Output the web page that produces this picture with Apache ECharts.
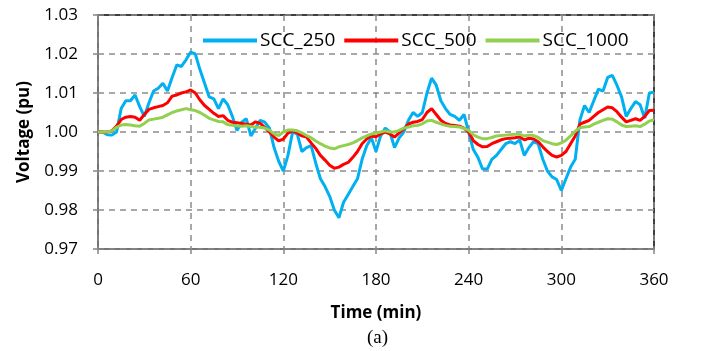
<!DOCTYPE html>
<html>
<head>
<meta charset="utf-8">
<script src="https://cdn.jsdelivr.net/npm/echarts@6/dist/echarts.min.js"></script>
<style>html,body{margin:0;padding:0;background:#fff}#c{width:704px;height:351px}</style>
</head>
<body>
<div id="c"></div>
<script>
// time (min), one point every 3 minutes
var timeMin = [];
for (var k = 0; k <= 120; k++) timeMin.push(k * 3);

var scc250 = [
1.0000,1.0000,0.9993,0.9992,1.0000,1.0060,1.0080,1.0080,1.0095,1.0065,
1.0040,1.0075,1.0105,1.0112,1.0125,1.0105,1.0140,1.0172,1.0168,1.0185,
1.0205,1.0200,1.0160,1.0125,1.0090,1.0085,1.0060,1.0085,1.0070,1.0040,
1.0004,1.0025,1.0034,0.9990,1.0010,1.0030,1.0025,1.0010,0.9960,0.9925,
0.9900,0.9940,1.0000,0.9995,0.9950,0.9960,0.9965,0.9920,0.9880,0.9860,
0.9835,0.9800,0.9780,0.9820,0.9840,0.9860,0.9880,0.9930,0.9965,0.9985,
0.9950,0.9990,1.0010,1.0000,0.9960,0.9985,1.0000,1.0030,1.0050,1.0040,
1.0050,1.0100,1.0138,1.0120,1.0080,1.0060,1.0045,1.0040,1.0030,1.0045,
1.0000,0.9955,0.9935,0.9905,0.9905,0.9930,0.9940,0.9955,0.9970,0.9975,
0.9970,0.9980,0.9940,0.9960,0.9975,0.9970,0.9930,0.9900,0.9885,0.9878,
0.9850,0.9880,0.9910,0.9930,1.0030,1.0068,1.0050,1.0080,1.0110,1.0105,
1.0140,1.0145,1.0120,1.0090,1.0040,1.0060,1.0078,1.0070,1.0035,1.0100,
1.0102];

var scc500 = [
1.0000,1.0000,1.0000,1.0003,1.0015,1.0032,1.0038,1.0040,1.0038,1.0030,
1.0045,1.0058,1.0062,1.0065,1.0068,1.0075,1.0092,1.0095,1.0100,1.0103,
1.0108,1.0100,1.0082,1.0068,1.0058,1.0048,1.0040,1.0042,1.0030,1.0025,
1.0024,1.0022,1.0020,1.0018,1.0026,1.0022,1.0012,1.0000,0.9987,0.9977,
0.9982,0.9997,1.0003,0.9998,0.9990,0.9987,0.9972,0.9958,0.9940,0.9928,
0.9915,0.9907,0.9910,0.9917,0.9922,0.9935,0.9950,0.9970,0.9982,0.9990,
0.9988,0.9995,1.0000,0.9995,0.9987,0.9998,1.0008,1.0020,1.0025,1.0027,
1.0032,1.0050,1.0060,1.0045,1.0030,1.0022,1.0018,1.0017,1.0015,1.0010,
1.0000,0.9978,0.9968,0.9962,0.9963,0.9970,0.9975,0.9980,0.9983,0.9984,
0.9985,0.9987,0.9980,0.9984,0.9982,0.9975,0.9962,0.9950,0.9940,0.9936,
0.9940,0.9950,0.9970,0.9990,1.0020,1.0025,1.0030,1.0040,1.0050,1.0057,
1.0064,1.0062,1.0052,1.0038,1.0026,1.0030,1.0034,1.0030,1.0040,1.0055,
1.0056];

var scc1000 = [
1.0000,1.0000,1.0000,1.0003,1.0012,1.0018,1.0019,1.0018,1.0016,1.0015,
1.0022,1.0031,1.0033,1.0035,1.0038,1.0044,1.0050,1.0054,1.0057,1.0060,
1.0057,1.0055,1.0050,1.0043,1.0035,1.0031,1.0027,1.0026,1.0019,1.0017,
1.0016,1.0015,1.0016,1.0014,1.0012,1.0012,1.0010,1.0005,0.9995,0.9991,
1.0000,1.0005,1.0005,1.0003,0.9998,0.9991,0.9985,0.9977,0.9970,0.9964,
0.9959,0.9957,0.9962,0.9965,0.9968,0.9972,0.9978,0.9985,0.9990,0.9995,
0.9997,1.0000,1.0003,1.0000,1.0000,1.0004,1.0010,1.0013,1.0016,1.0017,
1.0021,1.0028,1.0030,1.0025,1.0021,1.0017,1.0015,1.0014,1.0013,1.0009,
1.0004,0.9993,0.9987,0.9983,0.9983,0.9986,0.9990,0.9991,0.9992,0.9993,
0.9994,0.9994,0.9990,0.9992,0.9991,0.9986,0.9978,0.9974,0.9970,0.9968,
0.9972,0.9979,0.9990,1.0002,1.0011,1.0013,1.0014,1.0020,1.0025,1.0030,
1.0034,1.0033,1.0026,1.0018,1.0014,1.0015,1.0016,1.0014,1.0020,1.0028,
1.0031];

var seriesNames = ['SCC_250', 'SCC_500', 'SCC_1000'];
var seriesColors = ['#00B0F0', '#FF0000', '#92D050'];
var seriesValues = [scc250, scc500, scc1000];

function pairs(vals) {
  return vals.map(function (v, i) { return [timeMin[i], v]; });
}

var chart = echarts.init(document.getElementById('c'), null, {renderer: 'canvas'});
var FONT = '"Open Sans", sans-serif';
chart.setOption({
  animation: false,
  backgroundColor: '#ffffff',
  grid: {left: 98, right: 50, top: 15, bottom: 102, show: true, borderColor: '#000000', borderWidth: 1.5, backgroundColor: 'transparent'},
  legend: {
    left: 198, top: 26, itemWidth: 54, itemHeight: 4, itemGap: 9,
    icon: 'rect',
    textStyle: {fontFamily: FONT, fontSize: 19, color: '#000', padding: [0, 0, 0, -2]},
    data: seriesNames
  },
  xAxis: {
    type: 'value', min: 0, max: 360, interval: 60,
    name: 'Time (min)', nameLocation: 'middle', nameGap: 56,
    nameTextStyle: {fontFamily: FONT, fontSize: 17, fontWeight: 'bold', color: '#000'},
    axisLine: {lineStyle: {color: '#868686', width: 1.5}},
    axisTick: {show: true, length: 5, lineStyle: {color: '#868686', width: 1.5}},
    axisLabel: {margin: 23, fontFamily: FONT, fontSize: 17, color: '#000'},
    splitLine: {show: true, lineStyle: {color: '#8c8c8c', width: 1.5, type: [6, 5]}}
  },
  yAxis: {
    type: 'value', min: 0.97, max: 1.03, interval: 0.01,
    name: 'Voltage (pu)', nameLocation: 'middle', nameGap: 65, nameRotate: 90,
    nameTextStyle: {fontFamily: FONT, fontSize: 17, fontWeight: 'bold', color: '#000'},
    axisLine: {show: true, lineStyle: {color: '#868686', width: 1.5}},
    axisTick: {show: true, length: 5, lineStyle: {color: '#868686', width: 1.5}},
    axisLabel: {margin: 20, fontFamily: FONT, fontSize: 17, color: '#000',
      formatter: function (v) { return v.toFixed(2); }},
    splitLine: {show: true, lineStyle: {color: '#8c8c8c', width: 1.5, type: [6, 5]}}
  },
  series: seriesNames.map(function (n, i) {
    return {
      name: n, type: 'line', data: pairs(seriesValues[i]),
      showSymbol: false, symbol: 'none', smooth: false,
      lineStyle: {color: seriesColors[i], width: 3},
      itemStyle: {color: seriesColors[i]}
    };
  }),
  graphic: [{
    type: 'text', left: 367, top: 329,
    style: {text: '(a)', font: '19px "Liberation Serif", serif', fill: '#000'}
  }]
});
</script>
</body>
</html>
